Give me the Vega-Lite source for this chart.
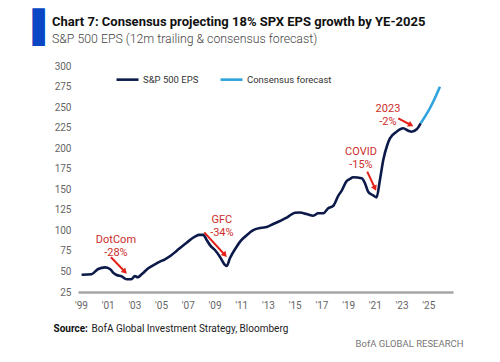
{
  "$schema": "https://vega.github.io/schema/vega-lite/v6.json",
  "width": 375,
  "height": 226,
  "autosize": "none",
  "padding": {"left": 78, "top": 66, "right": 47, "bottom": 70},
  "background": "white",
  "config": {
    "view": {"stroke": null},
    "font": "Roboto, sans-serif"
  },
  "title": {
    "text": "Chart 7: Consensus projecting 18% SPX EPS growth by YE-2025",
    "subtitle": "S&P 500 EPS (12m trailing & consensus forecast)",
    "anchor": "start",
    "frame": "group",
    "dx": -26,
    "dy": 33,
    "offset": 0,
    "font": "Roboto, sans-serif",
    "fontSize": 13,
    "fontWeight": "bold",
    "color": "#111111",
    "subtitleFont": "Roboto, sans-serif",
    "subtitleFontSize": 12.3,
    "subtitleFontWeight": 300,
    "subtitleColor": "#444444",
    "subtitlePadding": 4
  },
  "datasets": {
    "eps": [
      {"year": 1999.05, "eps": 46, "series": "S&P 500 EPS"},
      {"year": 1999.8, "eps": 46.7, "series": "S&P 500 EPS"},
      {"year": 2000.29, "eps": 53, "series": "S&P 500 EPS"},
      {"year": 2000.8, "eps": 55, "series": "S&P 500 EPS"},
      {"year": 2001.17, "eps": 53, "series": "S&P 500 EPS"},
      {"year": 2001.42, "eps": 48.5, "series": "S&P 500 EPS"},
      {"year": 2001.67, "eps": 45.7, "series": "S&P 500 EPS"},
      {"year": 2002.05, "eps": 44, "series": "S&P 500 EPS"},
      {"year": 2002.42, "eps": 40.6, "series": "S&P 500 EPS"},
      {"year": 2002.79, "eps": 40.6, "series": "S&P 500 EPS"},
      {"year": 2003.04, "eps": 44.5, "series": "S&P 500 EPS"},
      {"year": 2003.24, "eps": 42.9, "series": "S&P 500 EPS"},
      {"year": 2003.54, "eps": 46.5, "series": "S&P 500 EPS"},
      {"year": 2004.04, "eps": 53.8, "series": "S&P 500 EPS"},
      {"year": 2004.54, "eps": 58.7, "series": "S&P 500 EPS"},
      {"year": 2004.91, "eps": 61.9, "series": "S&P 500 EPS"},
      {"year": 2005.29, "eps": 64.8, "series": "S&P 500 EPS"},
      {"year": 2005.79, "eps": 70, "series": "S&P 500 EPS"},
      {"year": 2006.16, "eps": 75, "series": "S&P 500 EPS"},
      {"year": 2006.91, "eps": 85, "series": "S&P 500 EPS"},
      {"year": 2007.53, "eps": 92.3, "series": "S&P 500 EPS"},
      {"year": 2007.85, "eps": 94.5, "series": "S&P 500 EPS"},
      {"year": 2008.15, "eps": 94.5, "series": "S&P 500 EPS"},
      {"year": 2008.41, "eps": 88.3, "series": "S&P 500 EPS"},
      {"year": 2008.66, "eps": 82, "series": "S&P 500 EPS"},
      {"year": 2009.03, "eps": 76.1, "series": "S&P 500 EPS"},
      {"year": 2009.4, "eps": 68, "series": "S&P 500 EPS"},
      {"year": 2009.78, "eps": 57.9, "series": "S&P 500 EPS"},
      {"year": 2009.91, "eps": 56.6, "series": "S&P 500 EPS"},
      {"year": 2010.15, "eps": 66, "series": "S&P 500 EPS"},
      {"year": 2010.65, "eps": 80.1, "series": "S&P 500 EPS"},
      {"year": 2010.9, "eps": 86, "series": "S&P 500 EPS"},
      {"year": 2011.28, "eps": 92.3, "series": "S&P 500 EPS"},
      {"year": 2011.65, "eps": 97.5, "series": "S&P 500 EPS"},
      {"year": 2011.9, "eps": 100.4, "series": "S&P 500 EPS"},
      {"year": 2012.53, "eps": 103.2, "series": "S&P 500 EPS"},
      {"year": 2012.9, "eps": 104, "series": "S&P 500 EPS"},
      {"year": 2013.39, "eps": 107.7, "series": "S&P 500 EPS"},
      {"year": 2013.9, "eps": 111.4, "series": "S&P 500 EPS"},
      {"year": 2014.4, "eps": 115.4, "series": "S&P 500 EPS"},
      {"year": 2015.02, "eps": 121.5, "series": "S&P 500 EPS"},
      {"year": 2015.39, "eps": 121.8, "series": "S&P 500 EPS"},
      {"year": 2015.89, "eps": 119.9, "series": "S&P 500 EPS"},
      {"year": 2016.39, "eps": 117.8, "series": "S&P 500 EPS"},
      {"year": 2016.76, "eps": 120.8, "series": "S&P 500 EPS"},
      {"year": 2017.14, "eps": 120.8, "series": "S&P 500 EPS"},
      {"year": 2017.51, "eps": 126.9, "series": "S&P 500 EPS"},
      {"year": 2017.89, "eps": 130, "series": "S&P 500 EPS"},
      {"year": 2018.26, "eps": 142, "series": "S&P 500 EPS"},
      {"year": 2018.51, "eps": 148, "series": "S&P 500 EPS"},
      {"year": 2018.89, "eps": 160, "series": "S&P 500 EPS"},
      {"year": 2019.13, "eps": 162.5, "series": "S&P 500 EPS"},
      {"year": 2019.38, "eps": 164.6, "series": "S&P 500 EPS"},
      {"year": 2020.01, "eps": 163.3, "series": "S&P 500 EPS"},
      {"year": 2020.26, "eps": 157.3, "series": "S&P 500 EPS"},
      {"year": 2020.5, "eps": 147, "series": "S&P 500 EPS"},
      {"year": 2020.83, "eps": 143, "series": "S&P 500 EPS"},
      {"year": 2021.13, "eps": 140.2, "series": "S&P 500 EPS"},
      {"year": 2021.38, "eps": 161.3, "series": "S&P 500 EPS"},
      {"year": 2021.63, "eps": 185.6, "series": "S&P 500 EPS"},
      {"year": 2021.93, "eps": 203.9, "series": "S&P 500 EPS"},
      {"year": 2022.13, "eps": 212, "series": "S&P 500 EPS"},
      {"year": 2022.63, "eps": 220, "series": "S&P 500 EPS"},
      {"year": 2023.12, "eps": 224.2, "series": "S&P 500 EPS"},
      {"year": 2023.5, "eps": 221.3, "series": "S&P 500 EPS"},
      {"year": 2023.75, "eps": 220, "series": "S&P 500 EPS"},
      {"year": 2024.13, "eps": 223, "series": "S&P 500 EPS"},
      {"year": 2024.43, "eps": 230.3, "series": "S&P 500 EPS"},
      {"year": 2024.43, "eps": 230.3, "series": "Consensus forecast"},
      {"year": 2024.75, "eps": 238.4, "series": "Consensus forecast"},
      {"year": 2025.12, "eps": 248.6, "series": "Consensus forecast"},
      {"year": 2025.49, "eps": 260.8, "series": "Consensus forecast"},
      {"year": 2025.87, "eps": 274.8, "series": "Consensus forecast"}
    ],
    "notes": [
      {"year": 2001.62, "eps": 87.9, "label": "DotCom\n-28%"},
      {"year": 2009.55, "eps": 112.2, "label": "GFC\n-34%"},
      {"year": 2019.96, "eps": 195.4, "label": "COVID\n-15%"},
      {"year": 2021.98, "eps": 247.1, "label": "2023\n-2%"}
    ],
    "arrows": [
      {"event": "DotCom", "year0": 2001.25, "eps0": 67.3, "year1": 2002.29, "eps1": 49.7},
      {"event": "GFC", "year0": 2008.23, "eps0": 97.6, "year1": 2009.78, "eps1": 70},
      {"event": "COVID", "year0": 2020.43, "eps0": 171.4, "year1": 2021.01, "eps1": 151.2},
      {"event": "2023", "year0": 2022.75, "eps0": 236.4, "year1": 2023.7, "eps1": 228.2}
    ]
  },
  "layer": [
    {
      "data": {"name": "eps"},
      "mark": {"type": "line", "strokeWidth": 2.6, "interpolate": "monotone"},
      "encoding": {
        "x": {
          "field": "year", "type": "quantitative",
          "scale": {"domain": [1998.78, 2026.85], "nice": false, "zero": false},
          "axis": {
            "orient": "bottom",
            "values": [1999, 2001, 2003, 2005, 2007, 2009, 2011, 2013, 2015, 2017, 2019, 2021, 2023, 2025],
            "labelExpr": "\"'\" + substring(toString(datum.value), 2)",
            "labelFontSize": 10, "labelColor": "#666666", "labelPadding": 8,
            "ticks": false, "grid": false,
            "domainColor": "#a6a6a6", "domainWidth": 2.5,
            "title": "Source:", "titleFontWeight": "bold", "titleFontSize": 10, "titleColor": "#111111",
            "titleAlign": "left", "titleBaseline": "alphabetic", "titleX": -25, "titleY": 39
          }
        },
        "y": {
          "field": "eps", "type": "quantitative",
          "scale": {"domain": [25, 300], "nice": false, "zero": false},
          "axis": {
            "orient": "left",
            "values": [25, 50, 75, 100, 125, 150, 175, 200, 225, 250, 275, 300],
            "labelFontSize": 10, "labelColor": "#666666", "labelPadding": 7,
            "ticks": false, "domain": false, "grid": false,
            "title": "▐", "titleFont": "DejaVu Sans", "titleFontSize": 31.8, "titleFontWeight": "normal",
            "titleColor": "#0b47c4", "titleAngle": 0, "titleAlign": "right", "titleBaseline": "alphabetic",
            "titleX": -33.7, "titleY": -28.5
          }
        },
        "color": {
          "field": "series", "type": "nominal",
          "scale": {"domain": ["S&P 500 EPS", "Consensus forecast"], "range": ["#0c1a4a", "#2ea3dc"]},
          "legend": {
            "title": null, "orient": "none", "direction": "horizontal",
            "legendX": 37, "legendY": 1,
            "symbolType": "stroke", "symbolSize": 484, "symbolStrokeWidth": 2.6,
            "labelFontSize": 9.5, "labelColor": "#333333", "labelOffset": 3,
            "columnPadding": 16
          }
        }
      }
    },
    {
      "data": {"name": "notes"},
      "mark": {"type": "text", "lineBreak": "\n", "align": "center", "baseline": "middle", "fontSize": 11, "lineHeight": 12.7, "color": "#cc2e2b"},
      "encoding": {
        "x": {
          "field": "year", "type": "quantitative",
          "scale": {"domain": [1998.78, 2026.85], "nice": false, "zero": false},
          "axis": {
            "orient": "bottom", "labels": false, "ticks": false, "domain": false, "grid": false,
            "title": "BofA Global Investment Strategy, Bloomberg", "titleFontWeight": "normal", "titleFontSize": 10, "titleColor": "#222222",
            "titleAlign": "left", "titleBaseline": "alphabetic", "titleX": 13, "titleY": 39
          }
        },
        "y": {"field": "eps", "type": "quantitative", "scale": {"domain": [25, 300], "nice": false, "zero": false}, "axis": null},
        "text": {"field": "label"}
      }
    },
    {
      "data": {"name": "arrows"},
      "mark": {"type": "rule", "color": "#e32119", "strokeWidth": 2},
      "encoding": {
        "x": {
          "field": "year0", "type": "quantitative",
          "scale": {"domain": [1998.78, 2026.85], "nice": false, "zero": false},
          "axis": {
            "orient": "bottom", "labels": false, "ticks": false, "domain": false, "grid": false,
            "title": "BofA GLOBAL RESEARCH", "titleFontWeight": "normal", "titleFontSize": 9.5, "titleColor": "#777777",
            "titleAlign": "right", "titleBaseline": "alphabetic", "titleX": 385, "titleY": 54
          }
        },
        "x2": {"field": "year1"},
        "y": {"field": "eps0", "type": "quantitative", "scale": {"domain": [25, 300], "nice": false, "zero": false}, "axis": null},
        "y2": {"field": "eps1"}
      }
    },
    {
      "data": {"name": "arrows"},
      "transform": [{"filter": "datum.event == 'DotCom'"}],
      "mark": {"type": "point", "shape": "triangle-up", "filled": true, "color": "#e32119", "size": 40, "angle": 136, "opacity": 1},
      "encoding": {
        "x": {"field": "year1", "type": "quantitative", "axis": null},
        "y": {"field": "eps1", "type": "quantitative", "axis": null}
      }
    },
    {
      "data": {"name": "arrows"},
      "transform": [{"filter": "datum.event == 'GFC'"}],
      "mark": {"type": "point", "shape": "triangle-up", "filled": true, "color": "#e32119", "size": 40, "angle": 138, "opacity": 1},
      "encoding": {
        "x": {"field": "year1", "type": "quantitative", "axis": null},
        "y": {"field": "eps1", "type": "quantitative", "axis": null}
      }
    },
    {
      "data": {"name": "arrows"},
      "transform": [{"filter": "datum.event == 'COVID'"}],
      "mark": {"type": "point", "shape": "triangle-up", "filled": true, "color": "#e32119", "size": 40, "angle": 155, "opacity": 1},
      "encoding": {
        "x": {"field": "year1", "type": "quantitative", "axis": null},
        "y": {"field": "eps1", "type": "quantitative", "axis": null}
      }
    },
    {
      "data": {"name": "arrows"},
      "transform": [{"filter": "datum.event == '2023'"}],
      "mark": {"type": "point", "shape": "triangle-up", "filled": true, "color": "#e32119", "size": 40, "angle": 118, "opacity": 1},
      "encoding": {
        "x": {"field": "year1", "type": "quantitative", "axis": null},
        "y": {"field": "eps1", "type": "quantitative", "axis": null}
      }
    }
  ],
  "resolve": {"axis": {"x": "independent", "y": "independent"}}
}
